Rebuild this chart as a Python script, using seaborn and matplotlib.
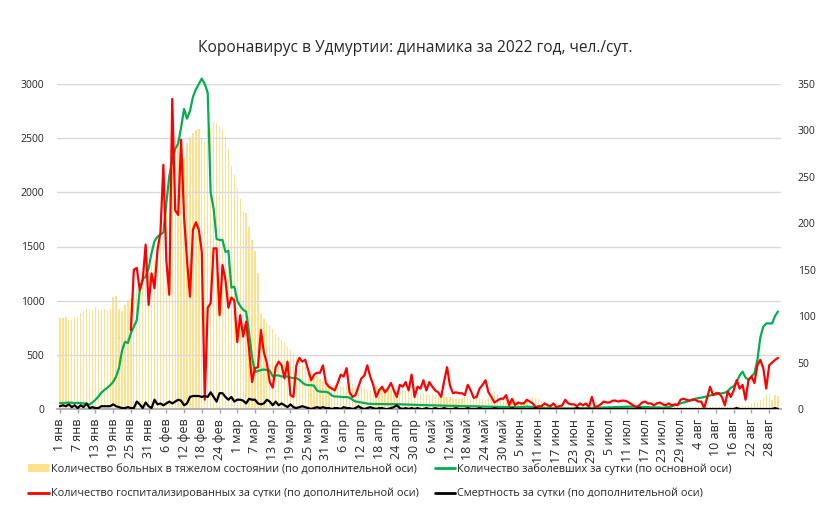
import numpy as np
import matplotlib
matplotlib.use("Agg")
import matplotlib.pyplot as plt
from matplotlib.lines import Line2D
from matplotlib.patches import Patch, Rectangle
import seaborn as sns

TITLE = "Коронавирус в Удмуртии: динамика за 2022 год, чел./сут."

tick_labels = ["1 янв", "7 янв", "13 янв", "19 янв", "25 янв", "31 янв",
               "6 фев", "12 фев", "18 фев", "24 фев", "1 мар", "7 мар",
               "13 мар", "19 мар", "25 мар", "31 мар", "6 апр", "12 апр",
               "18 апр", "24 апр", "30 апр", "6 май", "12 май", "18 май",
               "24 май", "30 май", "5 июн", "11 июн", "17 июн", "23 июн",
               "29 июн", "5 июл", "11 июл", "17 июл", "23 июл", "29 июл",
               "4 авг", "10 авг", "16 авг", "22 авг", "28 авг"]

# severe patients (secondary axis)
severe = [
    98, 98, 99, 96, 96, 99, 99, 103, 106, 108,
    108, 107, 110, 107, 107, 108, 106, 108, 121, 122,
    108, 106, 112, 117, 120, 123, 128, 135, 146, 148,
    150, 155, 160, 170, 182, 207, 232, 257, 279, 290,
    290, 288, 270, 286, 293, 297, 300, 302, 293, 288,
    300, 303, 309, 308, 305, 300, 293, 280, 262, 252,
    238, 226, 212, 211, 196, 182, 170, 146, 102, 97,
    93, 90, 86, 81, 78, 74, 72, 67, 63, 60,
    55, 52, 48, 45, 44, 41, 38, 36, 32, 30,
    29, 28, 27, 26, 26, 25, 24, 26, 28, 27,
    26, 26, 25, 22, 21, 20, 22, 24, 23, 24,
    22, 21, 20, 20, 19, 20, 20, 19, 20, 19,
    18, 17, 17, 17, 16, 15, 16, 15, 14, 13,
    13, 13, 13, 12, 11, 11, 12, 13, 12, 11,
    13, 12, 11, 11, 10, 12, 13, 18, 15, 12,
    10, 10, 9, 8, 7, 6, 6, 7, 9, 10,
    13, 12, 11, 9, 8, 6, 5, 4, 4, 3,
    3, 3, 3, 2, 3, 3, 2, 3, 3, 2,
    2, 3, 2, 2, 3, 2, 2, 3, 2, 2,
    2, 2, 3, 2, 2, 2, 3, 2, 2, 2,
    2, 2, 2, 3, 2, 2, 2, 2, 2, 2,
    2, 2, 2, 2, 2, 2, 3, 2, 2, 2,
    2, 2, 2, 2, 2, 3, 2, 2, 2, 3,
    3, 3, 3, 4, 6, 8, 8, 10, 12, 15,
    16, 10, 15, 14,
]

# new cases per day (main axis)
cases = [
    55, 55, 58, 60, 58, 55, 57, 55, 52, 48,
    42, 60, 85, 115, 150, 175, 195, 220, 250, 300,
    380, 540, 620, 610, 700, 760, 820, 1100, 1200, 1220,
    1300, 1440, 1550, 1590, 1610, 1630, 1900, 2150, 2300, 2400,
    2450, 2600, 2770, 2680, 2750, 2880, 2950, 3000, 3050, 3000,
    2920, 2000, 1850, 1570, 1560, 1560, 1450, 1460, 1120, 1130,
    1000, 950, 915, 900, 700, 480, 340, 350, 360, 365,
    360, 355, 300, 310, 310, 300, 300, 300, 290, 285,
    285, 270, 245, 225, 220, 220, 215, 170, 160, 160,
    158, 150, 125, 115, 115, 112, 110, 110, 105, 85,
    70, 65, 60, 55, 50, 48, 46, 46, 45, 45,
    45, 44, 44, 45, 44, 43, 42, 40, 40, 38,
    38, 37, 36, 36, 35, 35, 34, 33, 33, 32,
    31, 30, 30, 29, 28, 28, 27, 26, 26, 25,
    25, 24, 24, 23, 22, 22, 21, 20, 20, 19,
    19, 18, 18, 17, 17, 16, 18, 20, 22, 20,
    18, 15, 12, 10, 9, 8, 8, 7, 7, 6,
    6, 6, 5, 5, 6, 6, 7, 8, 8, 9,
    10, 11, 12, 13, 14, 15, 16, 17, 18, 19,
    20, 21, 21, 22, 22, 21, 20, 19, 18, 17,
    15, 14, 13, 13, 12, 14, 18, 25, 35, 45,
    52, 60, 67, 75, 85, 95, 100, 105, 110, 118,
    125, 130, 135, 140, 145, 150, 165, 195, 210, 250,
    310, 345, 290, 270, 300, 330, 450, 660, 760, 790,
    790, 790, 860, 900,
]

# hospitalized per day (secondary axis), no data before 25 Jan
hospitalized = [np.nan] * 24 + [
    85, 150, 152, 128, 139, 177, 112, 146, 130, 171,
    190, 263, 160, 123, 334, 214, 209, 290, 207, 160,
    121, 193, 201, 193, 169, 10, 109, 114, 173, 173,
    101, 155, 139, 109, 120, 117, 72, 101, 78, 94,
    64, 29, 44, 45, 85, 61, 50, 29, 23,
    45, 51, 47, 33, 51, 15, 13, 47, 55, 51,
    53, 42, 31, 37, 39, 39, 47, 28, 24, 22,
    20, 28, 37, 35, 44, 18, 13, 15, 24, 33,
    36, 47, 35, 26, 13, 20, 24, 18, 22, 28,
    20, 13, 26, 24, 29, 20, 37, 13, 24, 22,
    31, 20, 29, 24, 20, 18, 13, 30, 45, 25,
    17, 18, 17, 17, 15, 26, 20, 12, 13, 22,
    26, 31, 18, 13, 7, 9, 11, 11, 15, 4,
    11, 4, 7, 6, 6,
    10, 8, 6, 2, 3, 3, 6, 4, 3, 6,
    2, 3, 4, 10, 6, 5, 5, 3, 6, 4,
    6, 2, 13, 2, 3, 5, 8, 7, 7, 9,
    9, 8, 9, 9, 8, 6, 4, 2, 4, 7,
    8, 6, 6, 4, 6, 7, 5, 4, 6, 4,
    5, 4, 10, 11, 10, 9, 10, 10, 8,
    8, 1, 12, 24, 15, 17, 17, 13, 4, 19, 13, 20, 31,
    22, 26, 10, 31, 35, 28, 47, 53, 44, 22, 47, 50, 53, 55,
]

# deaths per day (secondary axis)
deaths = [
    3, 4, 3, 5, 2, 4, 1, 4, 2, 6,
    1, 2, 1, 1, 3, 3, 3, 3, 5, 3,
    2, 1, 1, 2, 1, 1, 8, 5, 1, 7,
    3, 1, 10, 5, 6, 4, 6, 8, 6, 8,
    10, 9, 4, 6, 13, 14, 14, 14, 13, 14,
    13, 18, 13, 8, 17, 17, 13, 10, 13, 8,
    10, 10, 9, 6, 11, 10, 10, 6, 5, 6,
    10, 8, 4, 8, 4, 6, 4, 2, 5, 2,
    1, 2, 3, 2, 1, 0, 1, 2, 1, 2,
    1, 1, 0, 1, 1, 0, 2, 1, 1, 0,
    1, 3, 1, 0, 1, 2, 1, 0, 1, 1,
    0, 0, 1, 2, 4, 1, 0, 1, 0, 1,
    0, 1, 0, 0, 1, 0, 0, 1, 0, 0,
    1, 0, 0, 0, 1, 0, 0, 0, 1, 0,
    0, 0, 1, 0, 0, 0, 0, 1, 0, 0,
    0, 0, 0, 1, 0, 0, 0, 0, 0, 0,
    0, 1, 0, 0, 0, 0, 0, 0, 0, 0,
    0, 0, 0, 0, 0, 1, 0, 0, 0, 0,
    0, 0, 0, 0, 0, 0, 0, 0, 0, 0,
    0, 0, 0, 0, 0, 0, 1, 0, 0, 0,
    0, 0, 0, 0, 0, 0, 0, 0, 0, 0,
    0, 0, 0, 0, 0, 0, 0, 0, 0, 0,
    0, 0, 0, 0, 0, 0, 0, 0, 0, 1,
    0, 0, 0, 0, 0, 0, 0, 0, 0, 0,
    0, 0, 1, 0,
]

legend_labels = [
    "Количество больных в тяжелом состоянии (по дополнительной оси)",
    "Количество госпитализированных за сутки (по дополнительной оси)",
    "Количество заболевших за сутки (по основной оси)",
    "Смертность за сутки (по дополнительной оси)",
]

BAR = "#FFE08C"
GREEN = "#00B050"
RED = "#FF0000"
BLACK = "#000000"

days = np.arange(len(cases))

sns.set_theme(style="white")
plt.rcParams["font.family"] = ["Open Sans", "DejaVu Sans"]

fig = plt.figure(figsize=(8.31, 5.2), dpi=100)
ax = fig.add_axes([57 / 831, 111 / 520, 724 / 831, 325 / 520])
ax_bar = ax.twinx()
ax_top = ax.twinx()
ax_bar.set_zorder(0)
ax.set_zorder(1)
ax_top.set_zorder(2)
ax.patch.set_visible(False)
ax_top.patch.set_visible(False)

# bars behind, green on main axis, red + black on top
sns.barplot(x=days, y=severe, ax=ax_bar, native_scale=True, color=BAR,
            saturation=1, width=0.45, errorbar=None, linewidth=0)
sns.lineplot(x=days, y=cases, ax=ax, color=GREEN, linewidth=1.6)
ax.lines[-1].set_clip_on(False)
sns.lineplot(x=days, y=hospitalized, ax=ax_top, color=RED, linewidth=1.6)
sns.lineplot(x=days, y=deaths, ax=ax_top, color=BLACK, linewidth=1.6)

ax.set_ylim(0, 3000)
ax.set_yticks(range(0, 3001, 500))
ax_bar.set_ylim(0, 350)
ax_bar.set_yticks([])
ax_top.set_ylim(0, 350)
ax_top.set_yticks(range(0, 351, 50))
ax.set_xlim(-1, 244)

ax.set_xticks(np.arange(0, 241, 6))
ax.set_xticklabels(tick_labels, rotation=90)
ax.tick_params(axis="x", length=3, width=1, color="#A6A6A6", labelsize=9,
               pad=4, bottom=True)
ax.tick_params(axis="y", length=0, labelsize=7.5, pad=9)
ax_top.tick_params(axis="y", length=0, labelsize=7.5, pad=12)

ax.yaxis.grid(True, color="#D9D9D9", linewidth=1)
ax.xaxis.grid(False)
for a in (ax, ax_bar, ax_top):
    a.set_xlabel("")
    a.set_ylabel("")
    for s in a.spines.values():
        s.set_visible(False)
ax.spines["bottom"].set_visible(True)
ax.spines["bottom"].set_color("#A6A6A6")

fig.text(0.5, 1 - 48 / 520, TITLE, ha="center", va="center", fontsize=11.2)

handles = [
    Patch(facecolor=BAR, edgecolor="none", label=legend_labels[0]),
    Line2D([], [], color=RED, linewidth=2, label=legend_labels[1]),
    Line2D([], [], color=GREEN, linewidth=2, label=legend_labels[2]),
    Line2D([], [], color=BLACK, linewidth=2, label=legend_labels[3]),
]
fig.legend(handles=handles, ncol=2, loc="upper left",
           bbox_to_anchor=(28 / 831, 1 - 463 / 520), frameon=False,
           fontsize=7.85, handlelength=1.9, handletextpad=0.2,
           columnspacing=1.45, labelspacing=1.2, borderpad=0,
           borderaxespad=0)

# the source image is cut just below the second legend row
fig.add_artist(Rectangle((0, 0), 1, 23 / 520, transform=fig.transFigure,
                         facecolor="white", edgecolor="none", zorder=20))

fig.savefig("out.png", dpi=100)
